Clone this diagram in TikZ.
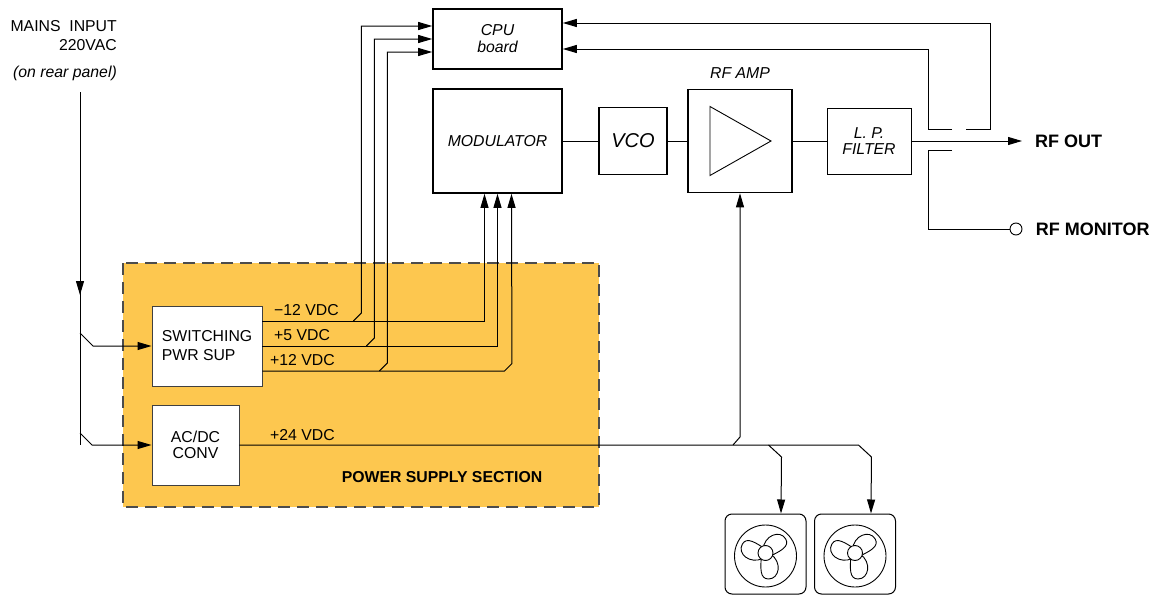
\documentclass[tikz,border=0pt]{standalone}
\usepackage{fontspec}
\setmainfont{Liberation Sans}
\usetikzlibrary{arrows.meta,calc}

\definecolor{psufill}{RGB}{253,199,79}
\tikzset{
  blk/.style={draw, line width=1.6pt, inner sep=1pt, font=\itshape},
  psubox/.style={draw=black!75, fill=white, line width=0.9pt, inner sep=1pt},
  wire/.style={line width=1pt},
  arr/.style={wire, -{Triangle[length=14pt,width=8pt]}},
  fanbox/.style={draw, line width=1pt, rounded corners=7pt, minimum width=81pt, minimum height=80pt},
  vlbl/.style={anchor=west, inner sep=0pt},
  biglbl/.style={font=\fontsize{18}{21}\selectfont\bfseries},
}

\begin{document}
\fontsize{15.8}{19}\selectfont
\begin{tikzpicture}[x=1pt, y=-1pt]
    \useasboundingbox (0,0) rectangle (1163,597);

    % power supply section
    \fill[psufill] (123,263) rectangle (599,507);
    \draw[black!70, line width=1.2pt, dash pattern=on 12pt off 7pt] (123,263) rectangle (599,507);
    \node[font=\bfseries] (psulbl) at (442,477) {POWER SUPPLY SECTION};

    \node[psubox, minimum width=110pt, minimum height=80pt, align=left] (sw) at (207,346) {SWITCHING\\PWR SUP};
    \node[psubox, minimum width=87pt, minimum height=80pt, align=center] (acdc) at (195.5,445) {AC/DC\\[-3pt]CONV};

    \node[vlbl] (m12) at (274,310) {−12 VDC};
    \node[vlbl] (p5) at (274,335) {+5 VDC};
    \node[vlbl] (p12) at (270,360) {+12 VDC};
    \node[vlbl] (p24) at (270,435) {+24 VDC};

    % rf chain
    \node[blk, minimum width=129pt, minimum height=60pt, align=center] (cpu) at (497.5,39) {CPU\\[-2pt]board};
    \node[blk, minimum width=129pt, minimum height=104pt] (mod) at (497.5,141) {MODULATOR};
    \node[blk, minimum width=68pt, minimum height=67pt, font=\itshape\fontsize{20}{22}\selectfont] (vco) at (633,141) {VCO};
    \node[blk, minimum width=104pt, minimum height=103pt] (amp) at (740,141) {};
    \node[font=\itshape] (amplbl) at (740,73) {RF AMP};
    \node[blk, line width=0.9pt, minimum width=84pt, minimum height=66pt, align=center] (lpf) at (869,141) {L. P.\\[-3pt]FILTER};
    \draw[line width=0.9pt] ($(amp.center)+(-30,-34.5)$) -- ++(0,69) -- ++(61,-34.5) -- cycle;

    \draw[wire] (mod) -- (vco);
    \draw[wire] (vco) -- (amp);
    \draw[wire] (amp) -- (lpf);

    \node[biglbl, right, inner sep=0pt] (rfout) at (1035,141) {RF OUT};
    \draw[arr] (lpf.east) -- ([xshift=-13pt]rfout.west);

    \node[circle, draw, line width=0.9pt, minimum size=12pt, inner sep=0pt, fill=white] (mon) at (1016,229) {};
    \node[biglbl, right, xshift=8pt] (monlbl) at (mon.east) {RF MONITOR};

    \coordinate (cplA) at (928,129);
    \coordinate (cplB) at (966,129);
    \coordinate (cplC) at (928,150);
    \draw[arr] ([xshift=24pt]cplA) -- (cplA) |- ([yshift=-10pt]cpu.east);
    \draw[arr] (cplB) -- ++(24,0) |- ([yshift=16pt]cpu.east);
    \draw[wire] ([xshift=24pt]cplC) -- (cplC) |- (mon.west);

    % mains input
    \node[align=right, anchor=east, inner sep=0pt] (mainslbl) at (117,36) {MAINS\ \ INPUT\\220VAC};
    \node[font=\itshape, inner sep=0pt] (rearlbl) at (65,73) {(on rear panel)};
    \coordinate (mains) at (80,92);
    \draw[arr] (mains) -- ++(0,203);
    \draw[wire] (mains) -- (mains |- acdc.west);
    \draw[arr] ([yshift=13pt]sw.west -| mains) -- ++(13,13) -- (sw.west);
    \draw[arr] ([yshift=12pt]acdc.west -| mains) -- ++(12,12) -- (acdc.west);

    % dc rails
    \draw[arr] ([yshift=25pt]sw.east) -| ([xshift=-13pt]mod.south);
    \draw[arr] (sw.east) -| (mod.south);
    \draw[arr] ([yshift=-25pt]sw.east) -- ++(242,0) -- ++(7.5,-7.5) -- ([xshift=14pt]mod.south);

    \draw[arr] ([yshift=25pt,xshift=91pt]sw.east) -- ++(8,-8) |- ([yshift=13pt]cpu.west);
    \draw[arr] ([xshift=104pt]sw.east) -- ++(8,-8) |- (cpu.west);
    \draw[arr] ([yshift=-25pt,xshift=117pt]sw.east) -- ++(8,-8) |- ([yshift=-13pt]cpu.west);

    % fans
    \node[fanbox] (fanA) at (765.5,554) {};
    \node[fanbox] (fanB) at (855,554) {};
    \foreach \f in {fanA,fanB}{
      \begin{scope}[shift={(\f.center)}]
        \draw[line width=0.9pt] (0,2) circle [radius=31pt];
        \foreach \a in {30,150,270}
          \draw[line width=0.9pt, rotate=\a] (0,-5) .. controls (8,-17) and (25,-14) .. (25,-3) .. controls (25,6) and (14,5) .. (0,4);
        \draw[line width=0.9pt, fill=white] (0,-1) circle [radius=7.5pt];
      \end{scope}
    }

    \draw[arr] (acdc.east) -- ++(619,0) -- ++(13,12) -- ([xshift=16pt]fanB.north);
    \draw[arr] ($(fanA.north |- acdc.east)+(3,0)$) -- ++(13,12) -- ([xshift=15.5pt]fanA.north);
    \draw[arr] ($(amp.south |- acdc.east)+(-7,0)$) -- ++(7,-8) -- (amp.south);
\end{tikzpicture}
\end{document}
